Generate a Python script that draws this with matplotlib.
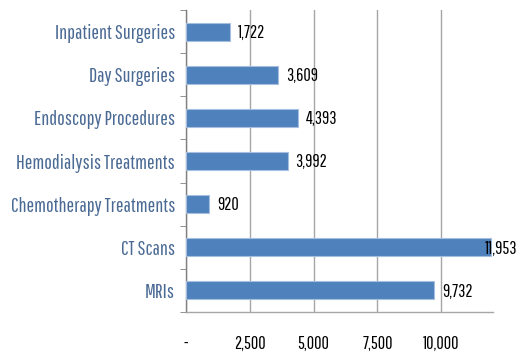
import matplotlib
matplotlib.use("Agg")
import matplotlib.pyplot as plt
import numpy as np

categories = ["Inpatient Surgeries", "Day Surgeries", "Endoscopy Procedures",
              "Hemodialysis Treatments", "Chemotherapy Treatments", "CT Scans", "MRIs"]
values = [1722, 3609, 4393, 3992, 920, 11953, 9732]
xticks = [0, 2500, 5000, 7500, 10000]
xticklabels = ["-", "2,500", "5,000", "7,500", "10,000"]

plt.rcParams['font.family'] = ["Pathway Gothic One", 'DejaVu Sans']

fig = plt.figure(figsize=(5.17, 3.54), dpi=100)
ax = fig.add_axes([186/517, 1-312/354, (493-186)/517, (312-10)/354])

n = len(categories)
y = np.arange(n)
ax.barh(y, values, height=0.42, color="#4F81BD", edgecolor="#A7BFDE", linewidth=0.8, zorder=3)
ax.set_ylim(n - 0.5, -0.5)
xmax = 12030
ax.set_xlim(0, xmax)

fs = 13
for yi, v in zip(y, values):
    xpos = v + 300
    if v + 1300 > xmax:
        xpos = v - 250
    ax.text(xpos, yi + 0.03, f"{v:,}", va="center", ha="left", fontsize=fs, color="black", zorder=4,
            clip_on=False)

ax.set_yticks(y)
ax.set_yticklabels(categories, fontsize=14.6, color="#4A6A94")
ax.tick_params(axis="y", which="major", length=0, pad=8)
ax.set_yticks(np.arange(-0.5, n, 1.0), minor=True)
ax.tick_params(axis="y", which="minor", length=4, color="#808080", direction="out")

ax.set_xticks(xticks)
ax.set_xticklabels(xticklabels, fontsize=fs, color="black")
ax.tick_params(axis="x", length=0, pad=17)
ax.xaxis.grid(True, color="#A6A6A6", linewidth=1.0, zorder=0)

for s in ["top", "right"]:
    ax.spines[s].set_visible(False)
ax.spines["left"].set_color("#808080")
ax.spines["bottom"].set_color("#A6A6A6")
ax.spines["left"].set_linewidth(1.0)
ax.spines["bottom"].set_linewidth(1.0)

fig.savefig("out.png", dpi=100)
